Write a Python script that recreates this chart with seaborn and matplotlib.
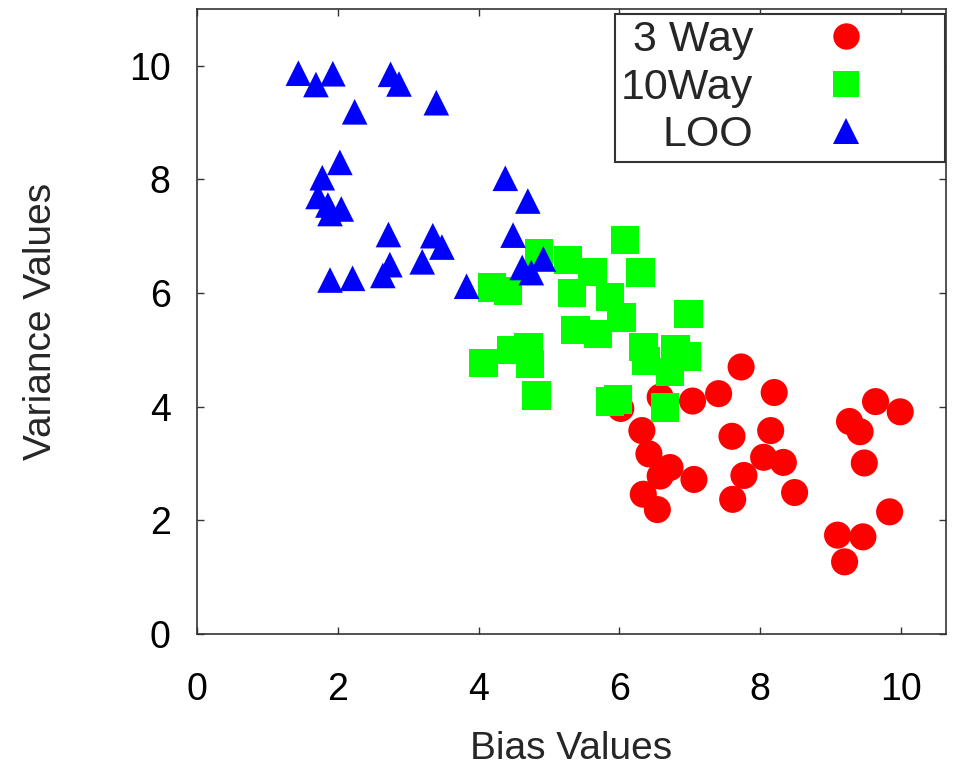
import matplotlib
matplotlib.use("Agg")
import matplotlib.pyplot as plt
from matplotlib.lines import Line2D
import pandas as pd
import seaborn as sns

# Data
way3_bias = [7.73, 7.41, 8.20, 7.04, 6.58, 6.02, 9.64, 9.99, 9.27, 9.42,
             6.32, 7.60, 8.15, 6.42, 6.72, 6.58, 8.05, 8.33, 9.48, 7.06,
             7.77, 8.49, 6.34, 7.61, 6.54, 9.84, 9.10, 9.46, 9.20]
way3_var = [4.70, 4.23, 4.25, 4.10, 4.17, 3.97, 4.09, 3.91, 3.74, 3.56,
            3.58, 3.48, 3.58, 3.17, 2.93, 2.78, 3.11, 3.02, 3.01, 2.72,
            2.79, 2.49, 2.46, 2.37, 2.19, 2.15, 1.74, 1.71, 1.27]

way10_bias = [4.86, 6.08, 5.27, 5.62, 6.30, 4.19, 4.42, 5.33, 5.87, 6.03,
              6.98, 5.38, 5.70, 6.34, 6.80, 6.96, 6.38, 6.72, 4.07, 4.47,
              4.71, 4.73, 4.82, 5.87, 5.98, 6.65]
way10_var = [6.71, 6.93, 6.58, 6.37, 6.36, 6.10, 6.04, 6.00, 5.93, 5.57,
             5.63, 5.35, 5.28, 5.05, 5.01, 4.88, 4.80, 4.61, 4.77, 5.00,
             5.05, 4.75, 4.20, 4.09, 4.13, 3.99]

loo_bias = [1.44, 1.69, 1.93, 2.75, 2.87, 3.40, 2.24, 2.03, 1.78, 1.72,
            1.86, 1.89, 2.05, 4.38, 4.70, 2.72, 3.35, 3.48, 4.49, 3.20,
            2.74, 2.64, 1.89, 2.21, 3.83, 4.62, 4.75, 4.92]
loo_var = [9.87, 9.67, 9.86, 9.85, 9.68, 9.35, 9.19, 8.30, 8.03, 7.70,
           7.55, 7.40, 7.48, 8.02, 7.62, 7.03, 7.01, 6.81, 7.02, 6.55,
           6.50, 6.31, 6.23, 6.26, 6.12, 6.45, 6.36, 6.60]

methods = ["3 Way", "10Way", "LOO"]
colors = {"3 Way": "#ff0000", "10Way": "#00ff00", "LOO": "#0000ff"}
markers = {"3 Way": "o", "10Way": "s", "LOO": "^"}
sizes = {"3 Way": 380, "10Way": 420, "LOO": 340}

df = pd.concat([
    pd.DataFrame({"bias": way3_bias, "var": way3_var, "method": "3 Way"}),
    pd.DataFrame({"bias": way10_bias, "var": way10_var, "method": "10Way"}),
    pd.DataFrame({"bias": loo_bias, "var": loo_var, "method": "LOO"}),
], ignore_index=True)

sns.set_style("ticks")
plt.rcParams["font.family"] = ["Liberation Sans", "DejaVu Sans"]

fig = plt.figure(figsize=(9.59, 7.73), dpi=100)
ax = fig.add_axes([0.2054, 0.1798, 0.7810, 0.8086])

# circles first, then squares, then triangles on top
sns.scatterplot(data=df, x="bias", y="var", hue="method", style="method",
                size="method", palette=colors, markers=markers, sizes=sizes,
                linewidth=0, alpha=1, legend=False, ax=ax)

ax.set_xlim(0, 10.64)
ax.set_ylim(0, 11)
ax.set_xticks(range(0, 11, 2))
ax.set_yticks(range(0, 11, 2))
ax.tick_params(direction="in", length=5, width=1, labelsize=27,
               top=True, right=True, colors="#333333", labelcolor="black")
ax.tick_params(axis="x", pad=27)
ax.tick_params(axis="y", pad=19)
ax.set_xlabel("Bias Values", fontsize=28, labelpad=17)
ax.set_ylabel("Variance Values", fontsize=28, labelpad=50)
for sp in ax.spines.values():
    sp.set_color("#333333")
    sp.set_linewidth(1.2)

handles = [Line2D([], [], linestyle="", marker=markers[m], markersize=19,
                  markerfacecolor=colors[m], markeredgewidth=0) for m in methods]
leg = ax.legend(handles, methods, loc="upper right", bbox_to_anchor=(0.9987, 0.992),
                borderaxespad=0, fontsize=31, markerfirst=False, handlelength=4.3,
                handletextpad=0, borderpad=0.15, labelspacing=0.17,
                fancybox=False, framealpha=1, edgecolor="#333333")
leg.get_frame().set_linewidth(1.5)

fig.savefig("out.png", dpi=100)
